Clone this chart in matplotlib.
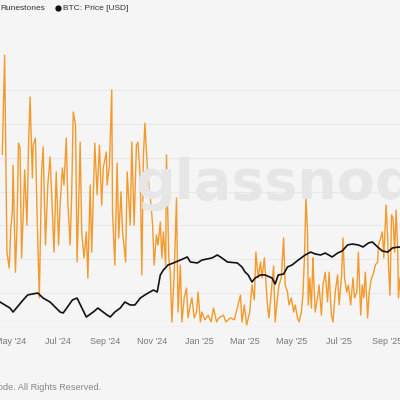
import numpy as np
import pandas as pd
import matplotlib
matplotlib.use("Agg")
import matplotlib.pyplot as plt
import matplotlib.dates as mdates
from matplotlib.lines import Line2D

# day 0 = Runes launch (halving block)
launch = pd.Timestamp("2024-04-20")

runes_day = [0, 3, 6, 9, 11, 13, 14, 17, 19, 21, 23, 25, 27, 29, 32, 34, 36, 39, 40, 43,
             45, 48, 51, 53, 56, 59, 62, 65, 67, 70, 73, 75, 78, 80, 83, 85, 88, 90, 92, 95,
             97, 99, 101, 103, 106, 109, 111, 114, 116, 120, 123, 126, 129, 131, 135, 136, 139, 142, 143, 146,
             149, 151, 154, 156, 160, 162, 166, 168,
             171, 174, 176, 179, 181, 183, 185, 188, 190, 193, 195, 197, 200, 202, 205, 207, 209, 212, 213, 216,
             218, 220, 223, 226, 228, 231, 233, 236, 239, 241, 244, 246, 249, 252, 254, 257, 259, 263, 267, 271,
             274, 278, 281, 287, 290, 296, 301, 309, 311, 314, 317, 321, 324, 327, 329, 332, 335, 337, 340,
             344, 346, 349, 352, 354, 357, 359, 362, 365, 367, 370, 372, 375, 378, 380, 383, 385, 388, 390, 392,
             394, 396, 397, 399, 401, 403, 404, 406, 409, 411, 414, 416, 419, 422, 424, 427, 429, 432, 435, 437,
             440, 442, 444, 447, 449, 452, 455, 457, 460, 462, 465, 467, 469, 471, 474, 476, 479, 481, 484, 487,
             488, 491, 493, 495, 498, 500, 501, 503, 505, 507, 509, 511, 513, 514, 516]
runes_val = [51, 80.3, 22.1, 17.4, 29.2, 34.0, 47.8, 16.2, 29.2, 54.3, 52.9, 20.4, 32.2, 46.4, 30.1, 53.7, 67.9, 44.0, 53.7, 55.8,
             34.0, 8.6, 45.8, 53.2, 24.2, 41.9, 50.2, 34.0, 22.1, 45.8, 24.2, 36.0, 47.0, 41.9, 55.8, 36.9, 24.2, 39.0, 63.5, 59.7,
             19.2, 36.0, 54.6, 28.1, 20.4, 28.1, 14.5, 41.9, 22.1, 54.3, 39.0, 53.7, 36.0, 47.0, 51.7, 41.9, 47.8, 70.0, 34.0, 18.3,
             48.4, 26.3, 39.9, 28.1, 19.2, 45.8, 30.1, 54.6,
             30.1, 53.7, 54.6, 44.0, 15.4, 49.9, 60.2, 47.8, 41.9, 36.0, 30.1, 18.3, 27.2, 24.2, 31.0, 20.4, 28.1, 18.3, 50.8, 20.4,
             16.2, 1.5, 15.4, 38.1, 4.4, 18.3, 1.5, 8.6, 11.5, 2.7, 6.5, 8.6, 2.7, 4.4, 10.3, 1.5, 4.4, 2.1, 3.5, 1.5,
             5.6, 1.5, 2.7, 3.5, 1.5, 2.7, 2.1, 9.4, 1.5, 6.5, 0.6, 4.4, 12.4, 8.0, 22.1, 14.5, 19.2, 14.5, 20.4,
             6.5, 2.7, 10.3, 18.0, 1.5, 8.6, 12.4, 14.5, 26.3, 12.4, 10.3, 6.5, 8.6, 4.4, 6.5, 2.7, 1.5, 4.4, 9.4, 20.4,
             38.4, 28.1, 6.5, 14.5, 5.6, 20.4, 14.5, 4.4, 8.6, 12.4, 3.5, 12.4, 16.2, 7.4, 16.2, 3.5, 1.5, 10.3, 15.4, 6.5,
             14.5, 26.3, 14.5, 10.3, 12.4, 6.5, 14.5, 8.6, 10.3, 22.1, 3.5, 12.4, 8.6, 16.2, 2.7, 10.3, 14.5, 15.4, 18.3, 19.2,
             24.2, 26.3, 28.1, 20.4, 36.0, 26.3, 18.3, 9.4, 33.1, 32.2, 22.1, 34.5, 22.7, 8.6, 14.5]

btc_day = [-3, 10, 14, 27, 33, 46, 53, 62, 75, 79, 91, 97, 109, 118, 124, 136, 140, 146, 153, 159,
           166, 172, 179, 185, 196, 201, 205, 209, 215, 222, 231, 240, 244, 253, 259, 272, 279, 285, 292, 305,
           311, 315, 319, 324, 328, 335, 341, 350, 354, 358, 365, 370, 376, 384, 393, 400, 406, 413, 419, 428,
           435, 441, 448, 454, 462, 468, 475, 480, 487, 493, 500, 506, 514, 517]
btc_price = [63900, 59700, 57100, 65400, 69200, 70700, 66800, 63900, 57100, 56500, 65400, 66800, 54000, 57100, 59700, 55200, 54000, 57100, 59700, 63900,
             61800, 61800, 66800, 69200, 73100, 71500, 86600, 91600, 96900, 99100, 102400, 106000, 100200, 99100, 102400, 104800, 108400, 104800, 100200, 99100,
             94700, 89500, 86600, 80000, 83700, 86600, 86600, 83700, 78200, 86600, 87500, 94700, 96900, 102400, 108400, 112000, 109600, 108400, 110800, 106000,
             110800, 113400, 121300, 122600, 121300, 118600, 124000, 125500, 118600, 113400, 112000, 117200, 118600, 118000]

grid_vals = [0, 10, 20, 30, 40, 50, 60, 70]
x_start = pd.Timestamp("2024-04-17")
x_end = pd.Timestamp("2025-09-18")

bg = "#f5f5f5"
plt.rcParams["font.family"] = ["Liberation Sans", "DejaVu Sans"]

fig = plt.figure(figsize=(4, 4), dpi=100, facecolor=bg)

# watermark
fig.text(0.34, 0.503, "glassnode", fontsize=40, color="#e6e6e6", fontweight="bold",
         family="DejaVu Sans", ha="left", va="baseline", zorder=0)

ax = fig.add_axes([0, 0.1825, 1, 0.7425])
ax.patch.set_alpha(0)

runes_dates = launch + pd.to_timedelta(runes_day, unit="D")
ax.plot(runes_dates, runes_val, color="#f39a2b", lw=1.0, zorder=3)

ax.set_ylim(0, 87.7)
ax.set_yticks(grid_vals)
ax.grid(axis="y", color="#e9e9e9", lw=0.8)
ax.axhline(0, color="#e2e2e2", lw=1)
ax.set_xlim(x_start, x_end)
ax.xaxis.set_major_locator(mdates.MonthLocator(bymonth=[1, 3, 5, 7, 9, 11]))
ax.xaxis.set_major_formatter(mdates.DateFormatter("%b '%y"))
ax.tick_params(axis="x", length=0, pad=7, labelsize=6.5, labelcolor="#777777")
ax.tick_params(axis="y", length=0, labelleft=False)
for s in ax.spines.values():
    s.set_visible(False)

ax2 = ax.twinx()
btc_dates = launch + pd.to_timedelta(btc_day, unit="D")
ax2.plot(btc_dates, btc_price, color="#111111", lw=1.2, zorder=4)
ax2.set_yscale("log")
ax2.set_ylim(48260, 1358000)
ax2.set_xlim(x_start, x_end)
ax2.tick_params(axis="y", which="both", length=0, labelright=False)
ax2.yaxis.set_minor_locator(plt.NullLocator())
for s in ax2.spines.values():
    s.set_visible(False)

# legend
fig.text(0.0, 0.98, "Runestones", fontsize=6, color="#333333", ha="left", va="center")
fig.add_artist(Line2D([0.145], [0.98], marker="o", markersize=3.5, color="#111111",
                      transform=fig.transFigure))
fig.text(0.157, 0.98, "BTC: Price [USD]", fontsize=6, color="#333333", ha="left", va="center")

# footer
fig.text(0.253, 0.03, "\u00a9 2025 Glassnode. All Rights Reserved.", fontsize=6.6,
         color="#888888", ha="right", va="center")

fig.savefig("out.png", dpi=100, facecolor=bg)
